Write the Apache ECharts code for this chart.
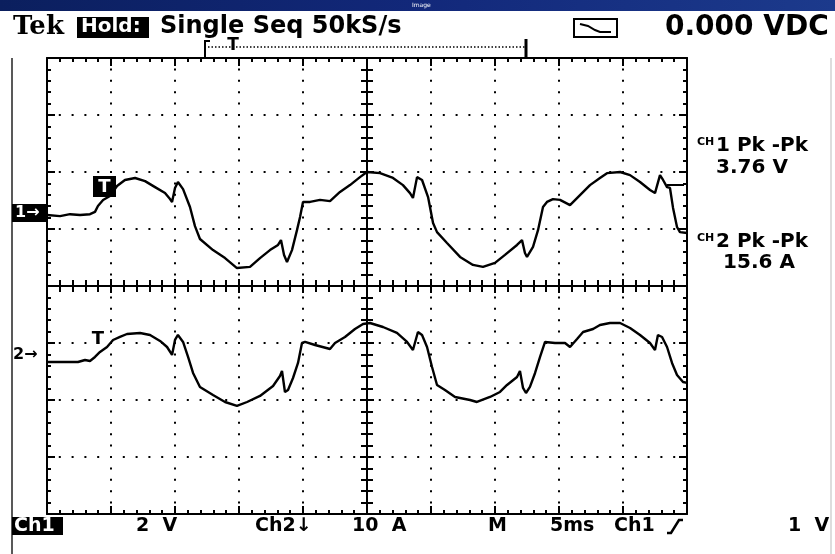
<!DOCTYPE html>
<html>
<head>
<meta charset="utf-8">
<script src="https://cdn.jsdelivr.net/npm/echarts@6/dist/echarts.min.js"></script>
<style>
html,body{margin:0;padding:0;background:#fff;}
#chart{width:835px;height:554px;}
</style>
</head>
<body>
<div id="chart"></div>
<script>
// ---- Data (time in ms, CH1 in V, CH2 in A) ----
const ch1Time = [0,1.02,1.80,2.58,3.36,3.75,3.98,4.38,4.92,5.47,6.09,6.88,7.66,8.44,9.22,9.61,9.77,10.0,10.23,10.63,11.17,11.56,11.95,12.97,13.91,14.84,15.86,16.64,17.42,18.05,18.28,18.52,18.75,19.14,19.53,19.77,20.0,20.55,21.33,22.11,22.89,23.67,24.45,25.0,26.02,27.03,27.81,28.36,28.59,28.91,29.30,29.77,30.16,30.47,31.25,32.27,33.28,34.06,35.0,35.78,36.72,37.11,37.34,37.50,37.97,38.36,38.75,39.06,39.53,40.08,40.86,41.64,42.42,43.20,43.75,44.77,45.55,46.33,47.11,47.50,47.89,48.13,48.44,48.67,48.91,49.22,49.45,50.0];
const ch1Volts = [-0.07,-0.11,-0.04,-0.07,-0.04,0.04,0.25,0.46,0.60,0.95,1.16,1.23,1.12,0.91,0.70,0.49,0.39,0.88,1.09,0.84,0.21,-0.46,-0.91,-1.30,-1.58,-1.93,-1.89,-1.58,-1.30,-1.12,-0.95,-1.47,-1.72,-1.30,-0.60,-0.14,0.39,0.39,0.46,0.42,0.74,0.98,1.26,1.44,1.40,1.23,0.98,0.70,0.53,1.26,1.16,0.56,-0.35,-0.67,-1.05,-1.54,-1.82,-1.89,-1.75,-1.47,-1.12,-0.95,-1.40,-1.54,-1.19,-0.60,0.21,0.39,0.49,0.46,0.28,0.63,0.98,1.23,1.40,1.44,1.33,1.09,0.81,0.70,1.33,1.16,0.91,0.88,0.18,-0.49,-0.67,-0.70];
const ch2Time = [0,1.02,2.42,2.97,3.36,3.75,4.14,4.69,5.16,5.70,6.25,7.27,8.05,8.83,9.38,9.77,10.0,10.23,10.63,11.02,11.41,11.95,12.97,13.91,14.84,15.63,16.64,17.66,18.20,18.36,18.59,18.83,19.22,19.61,19.92,20.16,20.94,22.11,22.50,23.28,24.06,24.69,25.23,26.25,27.34,28.13,28.59,28.98,29.30,29.69,30.08,30.47,31.09,31.88,33.05,33.59,34.61,35.39,35.94,36.72,36.95,37.19,37.42,37.73,38.13,38.52,38.91,39.69,40.47,40.86,41.41,41.88,42.66,43.20,43.98,44.77,45.55,46.33,47.11,47.50,47.73,48.05,48.44,48.83,49.22,49.69,50.0];
const ch2Amps = [-1.58,-1.58,-1.58,-1.23,-1.40,-0.70,0.18,1.05,2.28,2.81,3.33,3.51,3.16,2.11,1.05,-0.35,2.28,3.16,1.93,-0.70,-3.51,-5.96,-7.37,-8.60,-9.30,-8.60,-7.54,-5.79,-4.04,-3.16,-6.84,-6.49,-4.39,-1.75,1.75,1.93,1.40,0.70,1.75,2.81,4.21,5.09,5.26,4.56,3.51,1.93,0.53,3.68,3.16,1.05,-2.46,-5.61,-6.49,-7.72,-8.25,-8.60,-7.72,-6.84,-5.61,-4.21,-3.16,-6.14,-7.02,-5.96,-3.51,-0.70,1.93,1.75,1.75,1.05,2.46,3.68,4.21,4.91,5.26,5.26,4.39,3.16,1.75,0.53,3.16,2.81,1.05,-1.75,-3.86,-5.09,-5.26];

// scope settings
const timeRange = [0, 50];      // 5 ms/div x 10 div
const timePerDiv = 5;
const vertDivs = 4;             // +/- 4 divisions
const ch1VoltsPerDiv = 2;
const ch2AmpsPerDiv = 10;
const ch1GroundDiv = 1.28;      // ground marker position in divisions above centre
const ch2GroundDiv = -1.175;

const topTexts = ['Tek', 'Hold:', 'Single Seq 50kS/s', '0.000 VDC'];
const sideTexts = ['1 Pk -Pk', '3.76 V', '2 Pk -Pk', '15.6 A'];
const bottomTexts = ['Ch1', '2  V', 'Ch2\u2193', '10  A', 'M', '5ms', 'Ch1', '1  V'];

// ---- chart ----
const FONT = 'DejaVu Sans';
const BLACK = '#000';
const GL = 47, GT = 58, GW = 640, GH = 456;

function borderX(pos, extra) {
  return Object.assign({
    type: 'value', min: timeRange[0], max: timeRange[1], interval: timePerDiv,
    position: pos,
    axisLine: {show: true, onZero: false, lineStyle: {color: BLACK, width: 2}},
    axisTick: {show: true, inside: true, length: 8, lineStyle: {color: BLACK, width: 2}},
    minorTick: {show: true, splitNumber: 5, length: 4, lineStyle: {color: BLACK, width: 2}},
    axisLabel: {show: false},
    splitLine: {show: false}
  }, extra || {});
}
function borderY(pos, extra) {
  return Object.assign({
    type: 'value', min: -vertDivs, max: vertDivs, interval: 1,
    position: pos,
    axisLine: {show: true, onZero: false, lineStyle: {color: BLACK, width: 2}},
    axisTick: {show: true, inside: true, length: 8, lineStyle: {color: BLACK, width: 2}},
    minorTick: {show: true, splitNumber: 5, length: 4, lineStyle: {color: BLACK, width: 2}},
    axisLabel: {show: false},
    splitLine: {show: false}
  }, extra || {});
}

const centreTicks = (inside) => ({
  offset: 0,
  axisTick: {show: true, inside: inside, length: 7, lineStyle: {color: BLACK, width: 2}},
  minorTick: {show: true, splitNumber: 5, length: 6, lineStyle: {color: BLACK, width: 2}}
});

const xAxes = [
  borderX('bottom', {splitLine: {show: true, lineStyle: {color: BLACK, width: 2, type: [2, 9.4], dashOffset: 1}}}),
  borderX('top'),
  borderX('bottom', Object.assign(centreTicks(true), {offset: -GH / 2})),
  borderX('bottom', Object.assign(centreTicks(false), {offset: -GH / 2}))
];
const yAxes = [
  borderY('left', {splitLine: {show: true, lineStyle: {color: BLACK, width: 2, type: [2, 10.8], dashOffset: 1}}}),
  borderY('right'),
  borderY('left', Object.assign(centreTicks(true), {offset: -GW / 2})),
  borderY('left', Object.assign(centreTicks(false), {offset: -GW / 2})),
  {type: 'value', show: false, min: (-vertDivs - ch1GroundDiv) * ch1VoltsPerDiv, max: (vertDivs - ch1GroundDiv) * ch1VoltsPerDiv},
  {type: 'value', show: false, min: (-vertDivs - ch2GroundDiv) * ch2AmpsPerDiv, max: (vertDivs - ch2GroundDiv) * ch2AmpsPerDiv}
];

const ch1Data = ch1Time.map((t, i) => [t, ch1Volts[i]]);
const ch2Data = ch2Time.map((t, i) => [t, ch2Amps[i]]);

function txt(x, y, text, size, style) {
  return {
    type: 'text', x: x, y: y, z: 20,
    style: Object.assign({text: text, fill: BLACK, font: 'bold ' + size + 'px "' + FONT + '"', textVerticalAlign: 'middle'}, style || {})
  };
}

const graphics = [
  // title bar
  {type: 'rect', shape: {x: 0, y: 0, width: 835, height: 11}, z: 30,
   style: {fill: new echarts.graphic.LinearGradient(0, 0, 1, 0, [{offset: 0, color: '#0b1f5e'}, {offset: 0.5, color: '#12287a'}, {offset: 1, color: '#1c3a8c'}])}},
  {type: 'text', x: 412, y: 2, z: 31, style: {text: 'Image', fill: '#fff', font: '6px "' + FONT + '"'}},
  // top line
  txt(13, 27, topTexts[0], 26, {font: 'bold 26px "DejaVu Serif"'}),
  {type: 'rect', shape: {x: 77, y: 17, width: 72, height: 21}, z: 19, style: {fill: BLACK}},
  txt(81, 27, topTexts[1], 20, {fill: '#fff'}),
  txt(160, 27, topTexts[2], 24),
  txt(665, 28, topTexts[3], 28),
  // icon
  {type: 'rect', shape: {x: 574, y: 19, width: 43, height: 18}, z: 20, style: {fill: 'none', stroke: BLACK, lineWidth: 2}},
  {type: 'polyline', shape: {points: [[580, 24], [588, 26], [595, 30], [600, 32], [611, 32]]}, z: 20, style: {stroke: BLACK, lineWidth: 2, fill: 'none'}},
  // trigger position bracket
  {type: 'polyline', shape: {points: [[210, 41], [205, 41], [205, 58]]}, z: 20, style: {stroke: BLACK, lineWidth: 2, fill: 'none'}},
  {type: 'line', shape: {x1: 208, y1: 47, x2: 525, y2: 47}, z: 20, style: {stroke: BLACK, lineWidth: 1.5, lineDash: [1.5, 2]}},
  txt(233, 46, 'T', 17, {textAlign: 'center'}),
  {type: 'line', shape: {x1: 526, y1: 39, x2: 526, y2: 58}, z: 20, style: {stroke: BLACK, lineWidth: 3}},
  // left/right frame lines
  {type: 'line', shape: {x1: 12, y1: 58, x2: 12, y2: 554}, z: 5, style: {stroke: '#222', lineWidth: 1.5}},
  {type: 'line', shape: {x1: 831, y1: 58, x2: 831, y2: 554}, z: 5, style: {stroke: '#bbb', lineWidth: 1}},
  // channel markers
  {type: 'rect', shape: {x: 12, y: 204, width: 35, height: 18}, z: 19, style: {fill: BLACK}},
  txt(15, 213, '1\u2192', 16, {fill: '#fff'}),
  txt(13, 355, '2\u2192', 16),
  // trigger markers
  {type: 'rect', shape: {x: 93, y: 176, width: 23, height: 21}, z: 19, style: {fill: BLACK}},
  txt(104.5, 187, 'T', 18, {fill: '#fff', textAlign: 'center'}),
  txt(98, 339, 'T', 18, {textAlign: 'center'}),
  // trigger level mark at right
  {type: 'line', shape: {x1: 667, y1: 185, x2: 684, y2: 185}, z: 20, style: {stroke: BLACK, lineWidth: 2}},
  // measurements
  txt(697, 142, 'CH', 11),
  txt(716, 146, sideTexts[0], 20),
  txt(752, 168, sideTexts[1], 20, {textAlign: 'center'}),
  txt(697, 238, 'CH', 11),
  txt(716, 242, sideTexts[2], 20),
  txt(759, 263, sideTexts[3], 20, {textAlign: 'center'}),
  // bottom line
  {type: 'rect', shape: {x: 12, y: 517, width: 51, height: 18}, z: 19, style: {fill: BLACK}},
  txt(14, 526, bottomTexts[0], 19, {fill: '#fff'}),
  txt(136, 526, bottomTexts[1], 19),
  txt(255, 526, bottomTexts[2], 19),
  txt(352, 526, bottomTexts[3], 19),
  txt(488, 526, bottomTexts[4], 19),
  txt(550, 526, bottomTexts[5], 19),
  txt(614, 526, bottomTexts[6], 19),
  {type: 'polyline', shape: {points: [[667, 533], [671, 533], [679, 520], [683, 520]]}, z: 20, style: {stroke: BLACK, lineWidth: 2.5, fill: 'none'}},
  txt(788, 526, bottomTexts[7], 19)
];

const chart = echarts.init(document.getElementById('chart'), null, {renderer: 'canvas'});
chart.setOption({
  animation: false,
  backgroundColor: '#fff',
  grid: {left: GL, top: GT, width: GW, height: GH, containLabel: false},
  xAxis: xAxes,
  yAxis: yAxes,
  series: [
    {type: 'line', name: 'CH1', xAxisIndex: 0, yAxisIndex: 4, data: ch1Data, showSymbol: false, symbol: 'none',
     lineStyle: {color: BLACK, width: 2.4}, z: 10, clip: true},
    {type: 'line', name: 'CH2', xAxisIndex: 0, yAxisIndex: 5, data: ch2Data, showSymbol: false, symbol: 'none',
     lineStyle: {color: BLACK, width: 2.4}, z: 10, clip: true}
  ],
  graphic: graphics
});
</script>
</body>
</html>
